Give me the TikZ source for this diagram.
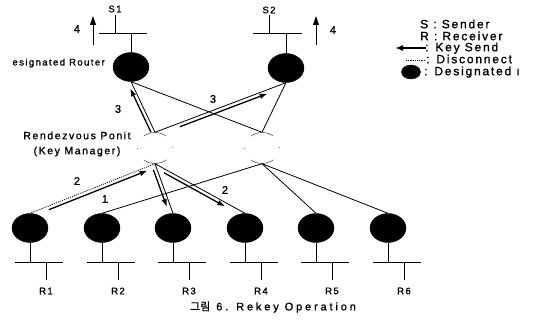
\documentclass[tikz,border=0pt]{standalone}
\usepackage{fontspec}
\setmainfont{Liberation Sans}[LetterSpace=15, FakeBold=1.2]
\newfontfamily\krfont{Noto Sans CJK KR}[FakeBold=1]
\usetikzlibrary{arrows.meta,calc,shapes.geometric}

% key-send marker drawn beside a link: tail/tip given as fractions along the link,
% pushed sideways by a fixed gap (#5 = 90 or -90 picks the side)
\newcommand{\keysend}[5]{%
  \draw[keyarrow] ($(#1)!#3!(#2)!3.6pt!#5:(#2)$) -- ($(#1)!#4!(#2)!3.6pt!#5:(#2)$);}

\begin{document}
\begin{tikzpicture}[x=1pt,y=-1pt,
  router/.style={ellipse, fill=black, draw=black, minimum width=36pt, minimum height=29pt, inner sep=0pt},
  rendezvous/.style={ellipse, fill=white, draw=black!85, line width=0.4pt,
    minimum width=35pt, minimum height=31pt, inner sep=0pt,
    dash pattern=on 1pt off 13pt on 24pt off 13.9pt},
  link/.style={line width=0.8pt},
  cutlink/.style={line width=0.8pt, dash pattern=on 1.1pt off 1.1pt},
  keyarrow/.style={line width=1.3pt, -{Latex[length=8pt,width=5.5pt]}},
  uparrow/.style={line width=1pt, -{Triangle[length=9pt,width=6pt]}},
  bus/.style={line width=0.9pt},
  lbl/.style={font=\fontsize{9.5}{10}\selectfont, inner sep=0pt},
  num/.style={font=\fontsize{11}{12}\selectfont, inner sep=0pt},
  leg/.style={font=\fontsize{12}{13}\selectfont, inner sep=0pt, anchor=west,
    text height=8.5pt, text depth=2pt},
]
\useasboundingbox (0,0) rectangle (547,321);

% senders with their designated routers
\node[router] (s1r) at (131,67) {};
\node[router] (s2r) at (286,68) {};
\draw[bus] (s1r.north) -- (131,33);
\draw[bus] (99,33) -- (147,33);
\draw[bus] (115,33) -- (115,15);
\node[lbl] (s1) at (115,9) {S1};
\draw[bus] (s2r.north) -- (286,33);
\draw[bus] (253,33) -- (302,33);
\draw[bus] (269,33) -- (269,15);
\node[lbl] (s2) at (269,10) {S2};
\draw[uparrow] (93,45) -- (93,16);
\node[num] (n4a) at (77,29) {4};
\draw[uparrow] (316,45) -- (316,16);
\node[num] (n4b) at (333,30) {4};
\node[lbl, font=\fontsize{9.5}{10}\selectfont, anchor=east] (drlabel) at (105,63) {esignated Router};

% rendezvous points
\node[rendezvous] (rp1) at (155,148) {};
\node[rendezvous] (rp2) at (262,148) {};
\node[font=\fontsize{10.5}{15}\selectfont, align=center, inner sep=0pt] (rplabel) at (77,144)
  {Rendezvous Ponit\\(Key Manager)};

% receivers
\foreach \i/\x in {1/30,2/102,3/173,4/245,5/316,6/388} {
  \node[router] (r\i) at (\x,228) {};
  \draw[bus] (r\i.south) -- (\x,262);
  \draw[bus] (\x-15,262) -- (\x+33,262);
  \draw[bus] (\x+16,262) -- (\x+16,280);
  \node[lbl] (rl\i) at (\x+16,291) {R\i};
}

% links of the shared trees
\draw[link] (s1r.south) -- (rp1.north);
\draw[link] (s1r.south) -- (rp2.north);
\draw[link] (s2r.south) -- (rp1.north);
\draw[link] (s2r.south) -- (rp2.north);
\draw[cutlink] (rp1.south) -- (r1.north);
\draw[link] (rp1.south) -- (r3.north);
\draw[link] (rp1.south) -- (r4.north);
\draw[link] (rp2.south) -- (r2.north);
\draw[link] (rp2.south) -- (r5.north);
\draw[link] (rp2.south) -- (r6.north);

% key distribution
\keysend{rp1.north}{s1r.south}{0.03}{0.9}{90}
\keysend{rp1.north}{s2r.south}{0.18}{0.85}{-90}
\keysend{r1.north}{rp1.south}{0.14}{0.93}{-90}
\keysend{rp1.south}{r3.north}{0.1}{0.85}{-90}
\keysend{rp1.south}{r4.north}{0.12}{0.8}{-90}

\node[num] (k3a) at (118,109) {3};
\node[num] (k3b) at (213,99) {3};
\node[num] (k2a) at (77,181) {2};
\node[num] (k1) at (105,199) {1};
\node[num] (k2b) at (225,190) {2};

% legend
\node[leg] (legS) at (420,25) {S : Sender};
\node[leg] (legR) at (420,37) {R : Receiver};
\coordinate (legKa) at (426,48);
\coordinate (legKb) at (395,48);
\draw[line width=1.6pt, -{Latex[length=8pt,width=6pt]}] (legKa) -- (legKb);
\node[leg] (legK) at (425,48) {: Key Send};
\coordinate (legDa) at (406,60);
\coordinate (legDb) at (425,60);
\draw[cutlink] (legDa) -- (legDb);
\node[leg] (legD) at (426,60) {: Disconnect};
\node[router, minimum width=19pt, minimum height=14pt] (legE) at (411,72) {};
\node[leg] (legT) at (424,72) {: Designated ı};

% caption
\node[font=\fontsize{11}{12}\selectfont\addfontfeature{LetterSpace=26}, inner sep=0pt] (caption) at (273,307)
  {{\krfont 그림} 6. Rekey Operation};
\end{tikzpicture}
\end{document}
